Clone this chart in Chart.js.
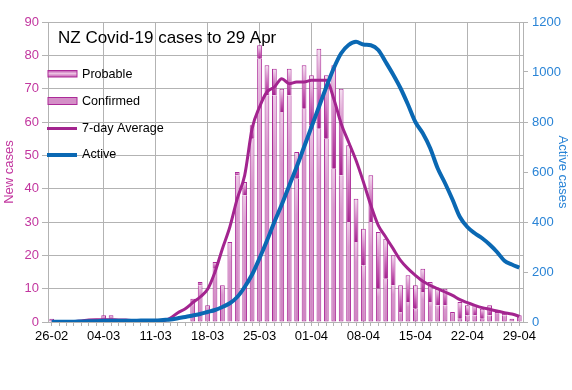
<!DOCTYPE html>
<html>
<head>
<meta charset="utf-8">
<script src="https://cdn.jsdelivr.net/npm/chart.js@4.4.1/dist/chart.umd.min.js"></script>
<style>
  html, body { margin: 0; padding: 0; background: #fff; }
  #wrap { position: relative; width: 572px; height: 390px; }
</style>
</head>
<body>
<div id="wrap"><canvas id="covidChart"></canvas></div>
<script>
// day labels, 26 Feb .. 29 Apr
var days = [
    '26-02', '27-02', '28-02', '29-02',
    '01-03', '02-03', '03-03', '04-03', '05-03', '06-03', '07-03', '08-03', '09-03', '10-03',
    '11-03', '12-03', '13-03', '14-03', '15-03', '16-03', '17-03', '18-03', '19-03', '20-03',
    '21-03', '22-03', '23-03', '24-03', '25-03', '26-03', '27-03', '28-03', '29-03', '30-03', '31-03',
    '01-04', '02-04', '03-04', '04-04', '05-04', '06-04', '07-04', '08-04', '09-04', '10-04',
    '11-04', '12-04', '13-04', '14-04', '15-04', '16-04', '17-04', '18-04', '19-04', '20-04',
    '21-04', '22-04', '23-04', '24-04', '25-04', '26-04', '27-04', '28-04', '29-04'
];

var confirmed = [
    1, 0, 0, 0, 0, 0, 0, 2, 2, 0, 0, 0, 0, 0,
    0, 0, 0, 0, 0, 6, 11, 5, 16, 11, 24, 44, 38, 55, 79, 68,
    68, 63, 68, 43, 64, 59, 58, 55, 46, 44, 30, 24, 17, 30, 10,
    13, 11, 3, 6, 4, 9, 6, 5, 5, 3, 1, 2, 2, 1, 2, 3, 2, 1, 2
];
var probable = [
    0, 0, 0, 0, 0, 0, 0, 0, 0, 0, 0, 0, 0, 0,
    0, 0, 0, 0, 0, 1, 1, 0, 2, 0, 0, 1, 4, 4, 4, 9,
    8, 7, 8, 8, 13, 15, 24, 19, 31, 26, 23, 13, 11, 14, 17,
    12, 9, 8, 8, 7, 7, 6, 5, 5, 0, 5, 3, 3, 3, 3, 0, 1, 0, 0
];
var avg7 = [
    0, 0, 0, 0.1, 0.3, 0.6, 0.7, 0.7, 0.7, 0.6, 0.6, 0.3, 0, 0,
    0, 0.3, 1.2, 2.8, 4, 5.8, 7.5, 9.8, 15, 22, 28.5, 37, 44, 58, 64.5, 69,
    70.5, 73, 71.5, 72, 72, 72.5, 72.5, 72.5, 67, 59.5, 54, 48.5, 42, 35, 29,
    25.5, 22, 18.5, 16, 14, 12.2, 11, 10, 9, 8, 6.7, 5.8, 5, 4.3, 3.8, 3.3, 2.8, 2.4, 1.7
];
var active = [
    1, 1, 1, 1, 2, 3, 3, 5, 5, 5, 5, 5, 6, 6,
    6, 8, 10, 15, 20, 26, 32, 40, 48, 60, 75, 100, 140, 190, 255, 325,
    400, 470, 545, 620, 700, 780, 860, 940, 1015, 1075, 1108, 1121, 1110, 1107, 1088,
    1040, 990, 935, 870, 800, 755, 695, 615, 555, 490, 420, 380, 355, 335, 310, 280, 245, 230, 217
];

var leftTicks = [0, 90, 10];
var rightTicks = [0, 1200, 200];

var MAGENTA = '#a3248f';
var BAR_EDGE = '#ac2a98';
var BLUE = '#0a68b3';
var GRID = '#b3b3b3';
var FONT = "'Liberation Sans', Arial, sans-serif";

// per-bar vertical gradient between the segment's own top and bottom
function segmentFill(stops, lower, upper) {
    return function (context) {
        var chart = context.chart;
        if (!chart.chartArea || context.type !== 'data') return stops[stops.length - 1][1];
        var i = context.dataIndex;
        var y = chart.scales.y;
        var yTop = y.getPixelForValue(upper(i));
        var yBot = y.getPixelForValue(lower(i));
        if (yBot - yTop < 1) return stops[stops.length - 1][1];
        var g = chart.ctx.createLinearGradient(0, yTop, 0, yBot);
        stops.forEach(function (s) { g.addColorStop(s[0], s[1]); });
        return g;
    };
}

var titleLegend = {
    id: 'titleLegend',
    afterDraw: function (chart) {
        var c = chart.ctx;
        c.save();
        c.fillStyle = '#000';
        c.font = '17px ' + FONT;
        c.textBaseline = 'alphabetic';
        c.fillText('NZ Covid-19 cases to 29 Apr', 58, 43);

        c.font = '12.6px ' + FONT;
        c.textBaseline = 'middle';

        // Probable swatch
        var g = c.createLinearGradient(0, 70, 0, 77);
        g.addColorStop(0, '#b43aa0');
        g.addColorStop(0.5, '#ecc2e3');
        g.addColorStop(1, '#c259ae');
        c.fillStyle = g;
        c.fillRect(48, 70.5, 29, 6.5);
        c.strokeStyle = BAR_EDGE;
        c.lineWidth = 1;
        c.strokeRect(48, 70.5, 29, 6.5);
        c.fillStyle = '#000';
        c.fillText('Probable', 82, 74.5);

        // Confirmed swatch
        c.fillStyle = '#d48fc7';
        c.fillRect(48, 97.5, 29, 7);
        c.strokeRect(48, 97.5, 29, 7);
        c.fillStyle = '#000';
        c.fillText('Confirmed', 82, 101.5);

        c.strokeStyle = MAGENTA;
        c.lineWidth = 3;
        c.beginPath(); c.moveTo(47, 128.5); c.lineTo(77, 128.5); c.stroke();
        c.fillText('7-day Average', 82, 128.5);

        c.strokeStyle = BLUE;
        c.lineWidth = 4;
        c.beginPath(); c.moveTo(47, 155); c.lineTo(77, 155); c.stroke();
        c.fillText('Active', 82, 155);
        c.restore();
    }
};

var ctx = document.getElementById('covidChart').getContext('2d');

new Chart(ctx, {
    data: {
        labels: days,
        datasets: [
            {
                type: 'line',
                label: 'Active',
                data: active,
                yAxisID: 'y2',
                borderColor: BLUE,
                borderWidth: 4,
                pointRadius: 0,
                cubicInterpolationMode: 'monotone'
            },
            {
                type: 'line',
                label: '7-day Average',
                data: avg7,
                yAxisID: 'y',
                borderColor: MAGENTA,
                borderWidth: 3,
                pointRadius: 0,
                cubicInterpolationMode: 'monotone'
            },
            {
                type: 'bar',
                label: 'Confirmed',
                data: confirmed,
                yAxisID: 'y',
                stack: 'cases',
                backgroundColor: segmentFill(
                    [[0, '#edc8e6'], [0.25, '#d898cc'], [1, '#cf86c2']],
                    function (i) { return 0; },
                    function (i) { return confirmed[i]; }),
                borderColor: BAR_EDGE,
                borderWidth: 1,
                borderSkipped: function (context) {
                    return probable[context.dataIndex] > 0 ? 'end' : 'start';
                },
                barPercentage: 0.64,
                categoryPercentage: 1
            },
            {
                type: 'bar',
                label: 'Probable',
                data: probable,
                yAxisID: 'y',
                stack: 'cases',
                backgroundColor: segmentFill(
                    [[0, '#f5e3f1'], [0.6, '#c866b6'], [1, '#a3218d']],
                    function (i) { return confirmed[i]; },
                    function (i) { return confirmed[i] + probable[i]; }),
                borderColor: BAR_EDGE,
                borderWidth: 1,
                barPercentage: 0.64,
                categoryPercentage: 1
            }
        ]
    },
    options: {
        responsive: true,
        maintainAspectRatio: false,
        animation: false,
        layout: { padding: { top: 22, left: 0, right: 0, bottom: 0 } },
        plugins: {
            legend: { display: false },
            title: { display: false },
            tooltip: { enabled: false }
        },
        scales: {
            x: {
                type: 'category',
                offset: true,
                stacked: true,
                border: { color: GRID },
                grid: {
                    offset: false,
                    color: function (context) {
                        return context.index % 7 === 0 && context.index > 0 ? GRID : 'rgba(0,0,0,0)';
                    },
                    tickColor: GRID,
                    tickLength: 4
                },
                ticks: {
                    autoSkip: false,
                    maxRotation: 0,
                    padding: 3,
                    color: '#000',
                    font: { family: FONT, size: 13 },
                    callback: function (value, index) {
                        return index % 7 === 0 ? days[index] : '';
                    }
                },
                afterFit: function (scale) { scale.height = 68; }
            },
            y: {
                type: 'linear',
                position: 'left',
                stacked: true,
                min: leftTicks[0],
                max: leftTicks[1],
                border: { color: GRID },
                grid: { color: GRID, tickColor: GRID, tickLength: 6 },
                ticks: {
                    stepSize: leftTicks[2],
                    padding: 3,
                    color: '#c2369f',
                    font: { family: FONT, size: 13 }
                },
                title: {
                    display: true,
                    text: 'New cases',
                    color: '#c2369f',
                    padding: { top: 2, bottom: 0 },
                    font: { family: FONT, size: 13 }
                },
                afterFit: function (scale) { scale.width = 48; }
            },
            y2: {
                type: 'linear',
                position: 'right',
                min: rightTicks[0],
                max: rightTicks[1],
                border: { color: GRID },
                grid: { drawOnChartArea: false, tickColor: GRID, tickLength: 5 },
                ticks: {
                    stepSize: rightTicks[2],
                    padding: 4,
                    color: '#2a84d6',
                    font: { family: FONT, size: 13 },
                    callback: function (value) { return String(value); }
                },
                title: {
                    display: true,
                    text: 'Active cases',
                    color: '#2a84d6',
                    padding: { top: 2, bottom: 0 },
                    font: { family: FONT, size: 13 }
                },
                afterFit: function (scale) { scale.width = 49; }
            }
        }
    },
    plugins: [titleLegend]
});
</script>
</body>
</html>
